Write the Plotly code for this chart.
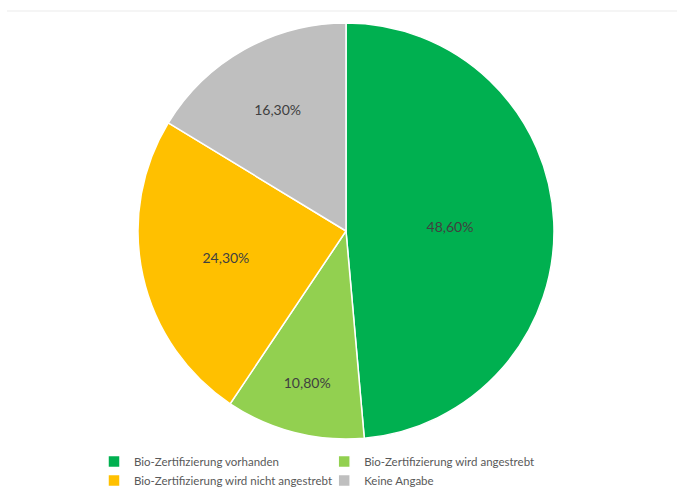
import plotly.graph_objects as go

labels = [
    "Bio-Zertifizierung vorhanden",
    "Bio-Zertifizierung wird angestrebt",
    "Bio-Zertifizierung wird nicht angestrebt",
    "Keine Angabe",
]
values = [48.6, 10.8, 24.3, 16.3]
colors = ["#00B050", "#92D050", "#FFC000", "#BFBFBF"]

W, H = 677, 493
cx, cy, r = 346, 231, 208

fig = go.Figure(
    go.Pie(
        labels=labels,
        values=values,
        sort=False,
        direction="clockwise",
        rotation=0,
        marker=dict(colors=colors, line=dict(color="white", width=1.5)),
        texttemplate="%{value:.2f}%",
        textposition="inside",
        insidetextorientation="horizontal",
        textfont=dict(color="#404040", size=14, family="Lato"),
        hoverinfo="label+percent",
        domain=dict(
            x=[(cx - r) / W, (cx + r) / W],
            y=[1 - (cy + r) / H, 1 - (cy - r) / H],
        ),
    )
)

fig.update_layout(
    width=W,
    height=H,
    margin=dict(l=0, r=0, t=0, b=0, autoexpand=False),
    paper_bgcolor="white",
    separators=",.",
    font=dict(family="Lato", color="#595959", size=11.5),
    legend=dict(
        orientation="h",
        x=94 / W,
        xanchor="left",
        y=1 - 447 / H,
        yanchor="top",
        entrywidth=0.340,
        entrywidthmode="fraction",
        itemwidth=30,
        tracegroupgap=0,
        font=dict(size=11.5, color="#595959", family="Lato"),
        bgcolor="rgba(0,0,0,0)",
    ),
    shapes=[
        dict(
            type="line", xref="paper", yref="paper",
            x0=7 / W, x1=1, y0=1 - 11 / H, y1=1 - 11 / H,
            line=dict(color="#EBEBEB", width=1),
        )
    ],
)

fig.write_html("out.html")
